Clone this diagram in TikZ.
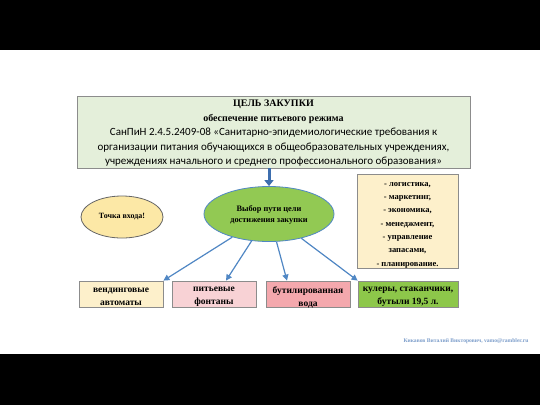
\documentclass[tikz,border=0pt]{standalone}
\usepackage{fontspec}
\setmainfont{Liberation Serif}
\newfontfamily\calfont{Carlito}
\usetikzlibrary{arrows.meta,shapes.geometric}

\definecolor{goalfill}{HTML}{E4EFDA}
\definecolor{choicefill}{HTML}{92C953}
\definecolor{entryfill}{HTML}{FCE8A6}
\definecolor{creamfill}{HTML}{FDF0CB}
\definecolor{pinkfill}{HTML}{F8D2D5}
\definecolor{rosefill}{HTML}{F4A8AD}
\definecolor{greenfill}{HTML}{8DC74A}
\definecolor{boxline}{HTML}{8C8C8C}
\definecolor{linkblue}{HTML}{5087C4}
\definecolor{mainblue}{HTML}{3D6EAE}
\definecolor{signblue}{HTML}{7D9ECB}

\newcommand\sanpinfont{\calfont\mdseries\fontsize{11}{14.5}\selectfont}

\begin{document}
\begin{tikzpicture}[
		x={(1pt,0pt)},
		y={(0pt,-1pt)},
		box/.style={draw=boxline,line width=0.8pt,inner sep=0pt},
		boxtext/.style={align=center,inner sep=0pt,font=\bfseries\fontsize{9.5}{13}\selectfont},
		link/.style={draw=linkblue,line width=1.2pt,-{Triangle[length=6pt,width=6pt]}},
	]
		\useasboundingbox (0,0) rectangle (540,405);
		\fill[black] (0,0) rectangle (540,50);
		\fill[white] (0,50) rectangle (540,354);
		\fill[black] (0,354) rectangle (540,405);
		
		% goal of the purchase
		\node[box,fill=goalfill,minimum width=393pt,minimum height=72pt] (goal) at (273.5,132) {};
		\node[boxtext,font=\bfseries\fontsize{10}{14.5}\selectfont] (goal text) at ([yshift=-1.5pt]goal.center) {ЦЕЛЬ ЗАКУПКИ\\
			обеспечение питьевого режима\\
			{\sanpinfont СанПиН 2.4.5.2409-08 «Санитарно-эпидемиологические требования к}\\
			{\sanpinfont организации питания обучающихся в общеобразовательных учреждениях,}\\
			{\sanpinfont учреждениях начального и среднего профессионального образования»}};
		
		\node[box,ellipse,draw=linkblue,fill=choicefill,minimum width=130pt,minimum height=55pt] (choice) at (269,214) {};
		\node[boxtext,font=\bfseries\fontsize{8.3}{11}\selectfont] (choice text) at ([yshift=-1pt]choice.center) {Выбор пути цели\\достижения закупки};
		\node[box,ellipse,draw=black!60,fill=entryfill,minimum width=82pt,minimum height=42pt,
			boxtext,font=\bfseries\fontsize{8}{12}\selectfont] (entry) at (122,217) {Точка входа!};
		
		\node[box,fill=creamfill,minimum width=101pt,minimum height=94pt] (areas) at (407.5,221) {};
		\node[boxtext,font=\bfseries\fontsize{8.5}{13.3}\selectfont] (areas text) at ([yshift=-4pt]areas.center) {- логистика,\\- маркетинг,\\- экономика,\\- менеджмент,\\- управление\\запасами,\\- планирование.};
		
		\draw[mainblue,line width=3pt,-{Triangle[length=6pt,width=9pt]}] (choice.north |- goal.south) -- (choice.north);
		
		% ways of drinking water
		\foreach \n/\x/\w/\c/\t in {1/121/84/creamfill/вендинговые\\автоматы, 2/214/84/pinkfill/питьевые\\фонтаны, 3/308/84/rosefill/бутилированная\\вода, 4/408/100/greenfill/{кулеры, стаканчики,\\бутыли 19,5 л.}}{
			\node[box,fill=\c,minimum width=\w pt,minimum height=26pt] (way\n) at (\x,294) {};
			\node[boxtext] (way\n text) at ([yshift=-3pt]way\n.center) {\t};
		}
		\draw[link] (choice) -- (way1.north east);
		\draw[link] (choice) -- ([xshift=12pt]way2.north);
		\draw[link] (choice) -- ([xshift=-21pt]way3.north);
		\draw[link] (choice) -- (way4.north west);
		
		\node[anchor=east,text=signblue,font=\bfseries\fontsize{5.6}{6}\selectfont] (sign) at (532,341) {Кикавов Виталий Викторович, vamo@rambler.ru};
	\end{tikzpicture}
\end{document}
